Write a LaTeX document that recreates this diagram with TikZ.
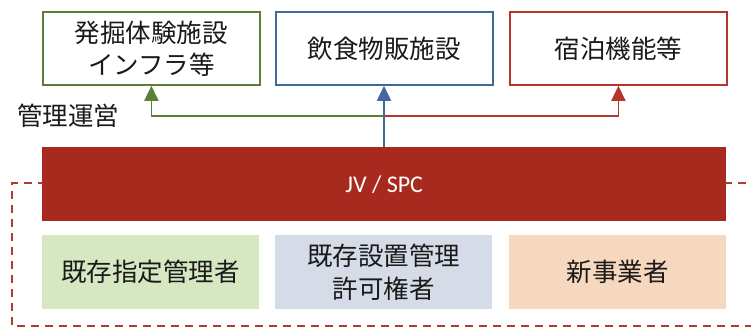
\documentclass[tikz,border=0pt]{standalone}
\usepackage{fontspec}
\setmainfont{Noto Sans CJK JP}
\newfontfamily\latinfont{Carlito}
\usetikzlibrary{arrows.meta}
\definecolor{bargreen}{HTML}{5B7F34}
\definecolor{barblue}{HTML}{41699A}
\definecolor{barred}{HTML}{B5352B}
\definecolor{jvred}{HTML}{A82A1E}
\definecolor{dashred}{HTML}{B23A2E}
\definecolor{fillgreen}{HTML}{D6E8C2}
\definecolor{fillblue}{HTML}{D6DCE7}
\definecolor{fillpeach}{HTML}{F6D8BF}
\definecolor{txt}{HTML}{1A1A1A}
\tikzset{
  topbox/.style={draw=#1, line width=1.8pt, fill=white, minimum width=217pt, minimum height=73pt,
    inner sep=0pt, anchor=north west, align=center, font=\fontsize{25.5}{32}\selectfont, text=txt},
  botbox/.style={fill=#1, minimum width=217pt, minimum height=74pt,
    inner sep=0pt, anchor=north west, align=center, font=\fontsize{25.5}{33}\selectfont, text=txt},
  conn/.style={draw=#1, line width=1.8pt, -{Triangle[width=14pt,length=15pt]}},
}
\begin{document}
\begin{tikzpicture}[x=1pt,y=-1pt]
\useasboundingbox (0,0) rectangle (751,327);
% dashed frame
\draw[dashred, line width=2.2pt, dash pattern=on 8pt off 6pt] (760,183) -- (12,183) -- (12,326) -- (760,326);
% top boxes
\node[topbox=bargreen] (b1) at (42,11) {発掘体験施設\\インフラ等};
\node[topbox=barblue] (b2) at (275,11) {飲食物販施設};
\node[topbox=barred] (b3) at (509,11) {宿泊機能等};
% label
\node[anchor=west, inner sep=0pt, font=\fontsize{25.5}{28}\selectfont, text=txt] (lbl) at (17,116) {管理運営};
% JV bar
\node[fill=jvred, minimum width=684pt, minimum height=74pt, inner sep=0pt, anchor=north west,
  text=white, font=\latinfont\fontsize{24}{28}\selectfont] (jv) at (42,147) {JV / SPC};
% bottom boxes
\node[botbox=fillgreen] (c1) at (42,235) {既存指定管理者};
\node[botbox=fillblue] (c2) at (275,235) {既存設置管理\\許可権者};
\node[botbox=fillpeach] (c3) at (509,235) {新事業者};
% connectors
\coordinate (br) at (384,116);
\draw[conn=bargreen] (br) -| (b1.south);
\draw[conn=barred] (br) -| (b3.south);
\draw[conn=barblue] (jv.north -| br) -- (b2.south -| br);
\end{tikzpicture}
\end{document}
